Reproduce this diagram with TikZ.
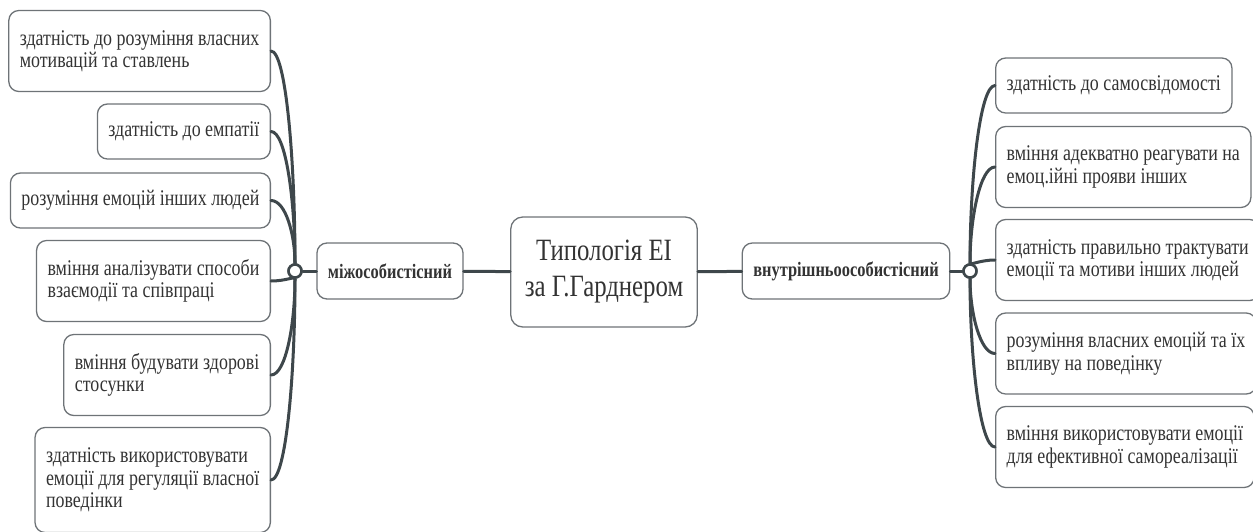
\documentclass[tikz,border=0pt]{standalone}
\usepackage{fontspec}
\setmainfont{Liberation Serif}[FakeStretch=0.8]
\usetikzlibrary{calc,positioning}
\definecolor{linegray}{HTML}{3E474B}
\definecolor{boxgray}{HTML}{6E7377}
\definecolor{textgray}{HTML}{333333}

\begin{document}
\begin{tikzpicture}[line cap=round,line join=round,x=1pt,y=1pt,
  leaf/.style={draw=boxgray,line width=1.3pt,rounded corners=10pt,fill=white,text=textgray,
    align=left,inner xsep=11pt,font=\fontsize{22.4}{22.5}\selectfont},
  one/.style={minimum height=55pt},
  two/.style={minimum height=81pt},
  three/.style={minimum height=105pt},
  branch/.style={draw=boxgray,line width=1.3pt,rounded corners=10pt,fill=white,text=textgray,
    inner xsep=11pt,minimum height=56pt,font=\fontsize{20.5}{20.5}\selectfont\bfseries},
  root/.style={draw=boxgray,line width=1.3pt,rounded corners=12pt,fill=white,text=textgray,
    align=center,inner xsep=14pt,minimum height=110pt,font=\fontsize{31}{36}\selectfont},
  conn/.style={draw=linegray,line width=3pt},
  hub/.style={circle,draw=linegray,line width=2.5pt,fill=white,inner sep=0pt,minimum size=13pt}]
\useasboundingbox (0,0) rectangle (1253,-531);
% centre and branches
\node[root] (root) at (604,-272) {Типологія ЕІ\\за Г.Гарднером};
\node[branch] (inter) at (390,-271) {міжособистісний};
\node[branch] (intra) at (846,-271) {внутрішньоособистісний};
\node[hub] (jl) at (295,-271) {};
\node[hub] (jr) at (970,-271) {};
% left leaves
\node[leaf,two,anchor=east] (l1) at (271,-51) {здатність до розуміння власних\\мотивацій та ставлень};
\node[leaf,one,anchor=east] (l2) at (271,-131.5) {здатність до емпатії};
\node[leaf,one,anchor=east] (l3) at (271,-200.5) {розуміння емоцій інших людей};
\node[leaf,two,anchor=east] (l4) at (271,-281) {вміння аналізувати способи\\взаємодії та співпраці};
\node[leaf,two,anchor=east] (l5) at (271,-375) {вміння будувати здорові\\стосунки};
\node[leaf,three,anchor=east] (l6) at (271,-480) {здатність використовувати\\емоції для регуляції власної\\поведінки};
% right leaves
\node[leaf,one,anchor=west] (r1) at (995,-85.5) {здатність до самосвідомості};
\node[leaf,two,anchor=west] (r2) at (995,-167) {вміння адекватно реагувати на\\емоц.ійні прояви інших};
\node[leaf,two,anchor=west] (r3) at (995,-260) {здатність правильно трактувати\\емоції та мотиви інших людей};
\node[leaf,two,anchor=west] (r4) at (995,-353.5) {розуміння власних емоцій та їх\\впливу на поведінку};
\node[leaf,two,anchor=west] (r5) at (995,-447) {вміння використовувати емоції\\для ефективної самореалізації};
% connectors
\draw[conn] (jl) -- (inter);
\draw[conn] (inter) -- (root);
\draw[conn] (root) -- (intra);
\draw[conn] (intra) -- (jr);
\foreach \n in {l1,l2,l3,l4,l5,l6}
  \draw[conn] (\n.east) .. controls ($(\n.east)+(15,0)$) and ($(jl)!0.5!(jl |- \n.east)$) .. (jl);
\foreach \n in {r1,r2,r3,r4,r5}
  \draw[conn] (\n.west) .. controls ($(\n.west)+(-15,0)$) and ($(jr)!0.5!(jr |- \n.west)$) .. (jr);
\node[hub] at (jl) {};
\node[hub] at (jr) {};
\end{tikzpicture}
\end{document}
